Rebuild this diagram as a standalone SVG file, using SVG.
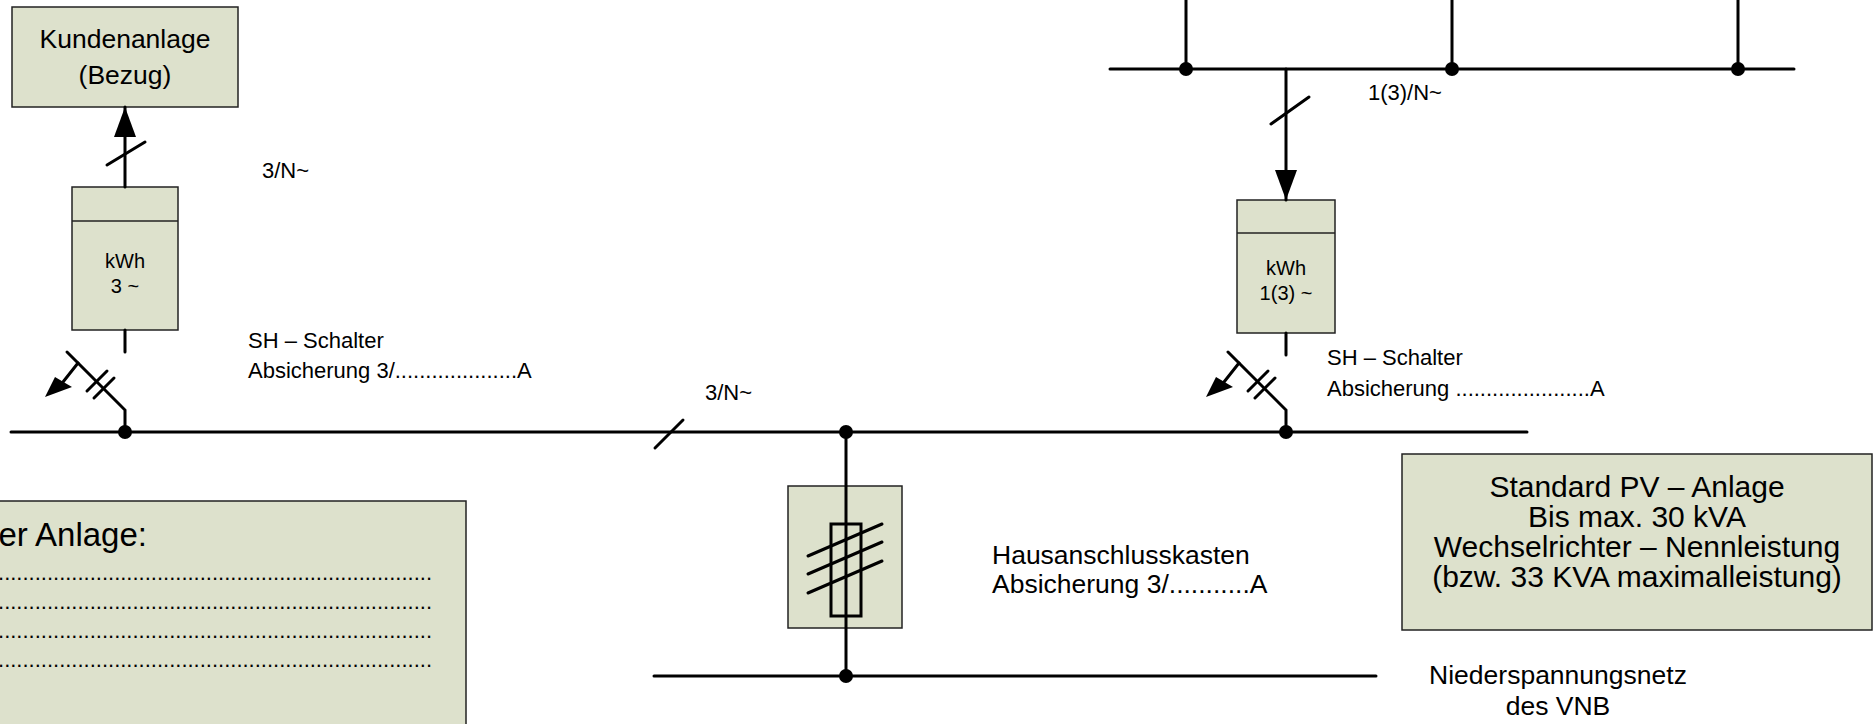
<svg xmlns="http://www.w3.org/2000/svg" width="1876" height="724" viewBox="0 0 1876 724">
<style>
.ln{stroke:#000;stroke-width:3;fill:none;stroke-linecap:round}
.bx{fill:#dde1cc;stroke:#222;stroke-width:1.5}
.dot{fill:#000}
text{font-family:"Liberation Sans",Arial,sans-serif;fill:#000}
.lbl{font-size:22px}
.lbl2{font-size:26.5px}
.mt{font-size:20px;text-anchor:middle}
.big{font-size:30px;text-anchor:middle}
.nm{font-size:26.5px;text-anchor:middle}
.dl{font-size:22px}
</style>
<defs>
<marker id="ah" viewBox="0 0 30 22" refX="30" refY="11" markerWidth="30" markerHeight="22" markerUnits="userSpaceOnUse" orient="auto">
<path d="M0,0 L30,11 L0,22 Z" fill="#000"/>
</marker>
<g id="sw">
<polyline class="ln" points="-58,-80 0,-22 0,0"/>
<line class="ln" x1="-47" y1="-69" x2="-62" y2="-50"/>
<path d="M-80,-35 L-70,-55 L-53,-45 Z" fill="#000"/>
<line class="ln" x1="-38" y1="-41" x2="-18" y2="-61"/>
<line class="ln" x1="-31" y1="-34" x2="-11" y2="-54"/>
</g>
</defs>

<g id="kundenanlage">
<rect class="bx" x="12" y="7" width="226" height="100"/>
<text class="nm" x="125" y="48">Kundenanlage</text>
<text class="nm" x="125" y="84">(Bezug)</text>
</g>

<g id="zaehler-bezug">
<rect class="bx" x="72" y="187" width="106" height="143"/>
<line x1="72" y1="221" x2="178" y2="221" stroke="#222" stroke-width="1.5"/>
<text class="mt" x="125" y="268">kWh</text>
<text class="mt" x="125" y="293">3 ~</text>
</g>

<g id="zaehler-pv">
<rect class="bx" x="1237" y="200" width="98" height="133"/>
<line x1="1237" y1="233" x2="1335" y2="233" stroke="#222" stroke-width="1.5"/>
<text class="mt" x="1286" y="275">kWh</text>
<text class="mt" x="1286" y="300">1(3) ~</text>
</g>

<g id="hausanschlusskasten">
<rect class="bx" x="788" y="486" width="114" height="142"/>
<rect x="831" y="524" width="30" height="92" fill="none" stroke="#000" stroke-width="3"/>
<line class="ln" x1="808" y1="556" x2="882" y2="524"/>
<line class="ln" x1="808" y1="574" x2="882" y2="542"/>
<line class="ln" x1="808" y1="593" x2="882" y2="561"/>
</g>

<g id="pv-anlage">
<rect class="bx" x="1402" y="454" width="470" height="176"/>
<text class="big" x="1637" y="497">Standard PV – Anlage</text>
<text class="big" x="1637" y="527">Bis max. 30 kVA</text>
<text class="big" x="1637" y="557">Wechselrichter – Nennleistung</text>
<text class="big" x="1637" y="587">(bzw. 33 KVA maximalleistung)</text>
</g>

<g id="angaben">
<rect class="bx" x="-5" y="501" width="471" height="230"/>
<text x="147" y="546" style="font-size:33px" text-anchor="end">er Anlage:</text>
<text class="dl" x="432" y="580" text-anchor="end">.......................................................................</text>
<text class="dl" x="432" y="609" text-anchor="end">.......................................................................</text>
<text class="dl" x="432" y="638" text-anchor="end">.......................................................................</text>
<text class="dl" x="432" y="667" text-anchor="end">.......................................................................</text>
</g>

<g id="connectors">
<line class="ln" x1="125" y1="187" x2="125" y2="107" marker-end="url(#ah)"/>
<line class="ln" x1="107" y1="165" x2="145" y2="142"/>
<line class="ln" x1="125" y1="330" x2="125" y2="352"/>
<use href="#sw" x="125" y="432"/>
<line class="ln" x1="11" y1="432" x2="1527" y2="432"/>
<line class="ln" x1="655" y1="448" x2="683" y2="420"/>
<circle class="dot" cx="125" cy="432" r="7"/>
<circle class="dot" cx="846" cy="432" r="7"/>
<circle class="dot" cx="1286" cy="432" r="7"/>
<line class="ln" x1="846" y1="432" x2="846" y2="676"/>
<line class="ln" x1="654" y1="676" x2="1376" y2="676"/>
<circle class="dot" cx="846" cy="676" r="7"/>
<line class="ln" x1="1286" y1="333" x2="1286" y2="355"/>
<use href="#sw" x="1286" y="432"/>
<line class="ln" x1="1186" y1="0" x2="1186" y2="69"/>
<line class="ln" x1="1452" y1="0" x2="1452" y2="69"/>
<line class="ln" x1="1738" y1="0" x2="1738" y2="69"/>
<line class="ln" x1="1110" y1="69" x2="1794" y2="69"/>
<circle class="dot" cx="1186" cy="69" r="7"/>
<circle class="dot" cx="1452" cy="69" r="7"/>
<circle class="dot" cx="1738" cy="69" r="7"/>
<line class="ln" x1="1286" y1="69" x2="1286" y2="200" marker-end="url(#ah)"/>
<line class="ln" x1="1271" y1="124" x2="1309" y2="97"/>
</g>

<g id="labels">
<text class="lbl" x="262" y="178">3/N~</text>
<text class="lbl" x="1368" y="100">1(3)/N~</text>
<text class="lbl" x="705" y="400">3/N~</text>
<text class="lbl" x="248" y="348">SH – Schalter</text>
<text class="lbl" x="248" y="378">Absicherung 3/....................A</text>
<text class="lbl" x="1327" y="365">SH – Schalter</text>
<text class="lbl" x="1327" y="396">Absicherung ......................A</text>
<text class="lbl2" x="992" y="564">Hausanschlusskasten</text>
<text class="lbl2" x="992" y="593">Absicherung 3/...........A</text>
<text class="lbl2" x="1558" y="684" text-anchor="middle">Niederspannungsnetz</text>
<text class="lbl2" x="1558" y="715" text-anchor="middle">des VNB</text>
</g>
</svg>
